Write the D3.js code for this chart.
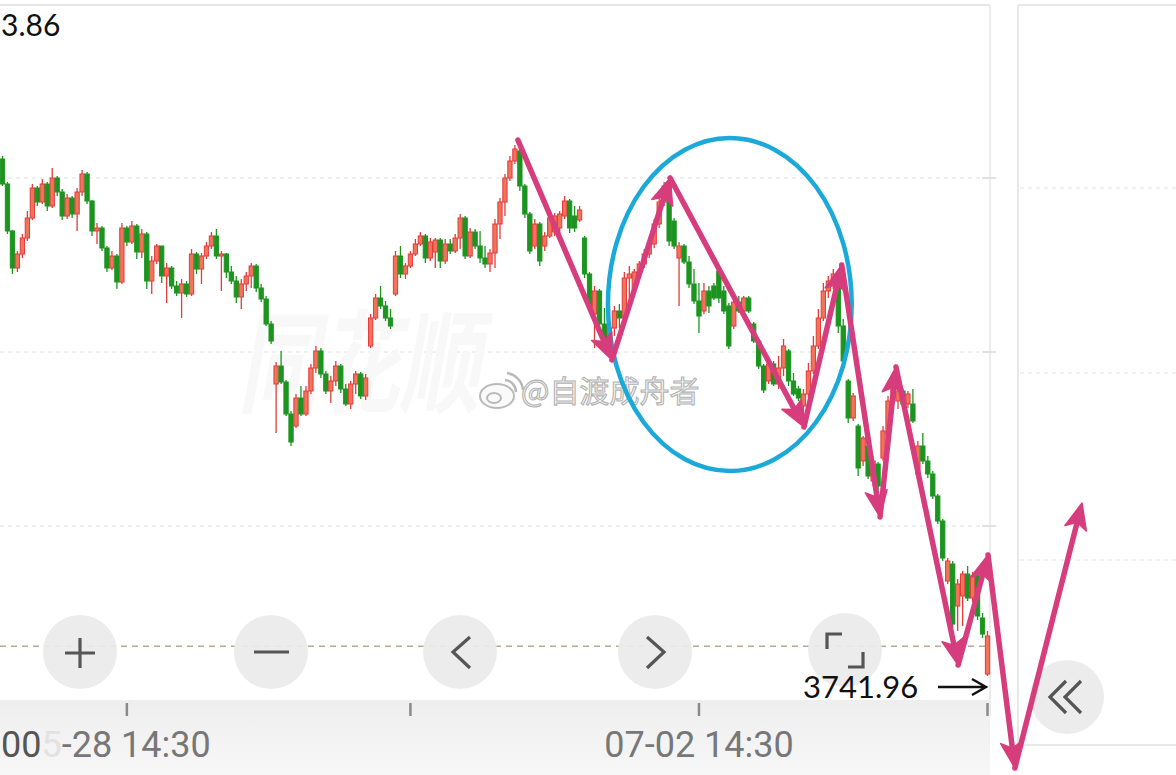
<!DOCTYPE html>
<html><head><meta charset="utf-8">
<script src="https://cdn.jsdelivr.net/npm/d3@7"></script>
<style>html,body{margin:0;padding:0;background:#fff;overflow:hidden}</style>
</head><body>
<svg id="c" width="1176" height="775"></svg>
<script>
// ---------------- data ----------------
const open = [3839.4,3834.4,3825.0,3817.6,3820.4,3823.6,3827.6,3833.6,3830.8,3834.4,3830.0,3835.6,3832.8,3828.0,3831.6,3828.4,3832.8,3836.4,3831.0,3825.0,
3825.6,3821.6,3817.6,3820.0,3814.8,3825.6,3822.8,3826.0,3820.8,3824.4,3815.0,3819.0,3822.0,3816.0,3817.6,3814.0,3812.6,3814.4,3812.4,3820.4,
3817.4,3820.0,3822.0,3824.0,3820.0,3820.4,3816.8,3815.0,3811.8,3814.4,3816.0,3818.0,3813.6,3811.4,3806.4,3794.4,3798.0,3794.8,3788.4,3786.0,
3791.6,3788.4,3793.0,3797.6,3801.0,3796.4,3793.0,3795.0,3798.0,3793.4,3790.4,3794.4,3796.4,3792.0,3802.0,3807.6,3811.6,3810.0,3807.6,3812.4,
3820.0,3816.4,3818.0,3820.4,3822.4,3824.0,3819.6,3820.8,3823.2,3819.0,3822.4,3821.0,3823.6,3827.6,3820.0,3824.8,3822.0,3819.6,3818.4,3820.6,
3826.4,3830.8,3835.6,3839.0,3841.0,3834.0,3828.4,3822.0,3826.4,3822.0,3824.0,3824.8,3825.6,3828.0,3831.0,3828.0,3827.2,3823.6,3816.4,3808.4,
3813.0,3806.4,3802.0,3805.6,3809.0,3807.6,3815.6,3813.4,3816.8,3818.4,3820.4,3822.4,3826.4,3830.8,3834.0,3827.0,3819.6,3822.0,3818.8,3814.4,
3811.0,3809.0,3813.0,3814.0,3817.0,3813.0,3810.0,3806.0,3810.8,3809.0,3811.6,3806.4,3803.0,3798.0,3795.0,3798.4,3794.4,3797.6,3801.0,3795.0,
3793.4,3790.0,3792.4,3797.0,3802.0,3807.6,3813.0,3814.4,3816.4,3806.0,3795.0,3787.6,3786.0,3779.0,3782.0,3775.0,3778.4,3779.6,3784.4,3791.6,
3791.0,3793.0,3790.4,3790.4,3776.4,3782.0,3779.0,3776.4,3772.0,3767.0,3755.0,3758.4,3750.0,3752.0,3756.4,3751.6,3756.0,3747.6,3736.4];
const close = [3834.4,3825.0,3817.6,3820.4,3823.6,3827.6,3833.6,3830.8,3834.4,3830.0,3835.6,3832.8,3828.0,3831.6,3828.4,3832.8,3836.4,3831.0,3825.0,3825.6,
3821.6,3817.6,3820.0,3814.8,3825.6,3822.8,3826.0,3820.8,3824.4,3815.0,3819.0,3822.0,3816.0,3817.6,3814.0,3812.6,3814.4,3812.4,3820.4,3817.4,
3820.0,3822.0,3824.0,3820.0,3820.4,3816.8,3815.0,3811.8,3814.4,3816.0,3818.0,3813.6,3811.4,3806.4,3803.0,3798.0,3794.8,3788.4,3782.8,3791.6,
3788.4,3793.0,3797.6,3801.0,3796.4,3793.0,3795.0,3798.0,3793.4,3790.4,3794.4,3796.4,3792.0,3795.6,3807.6,3811.6,3810.0,3807.6,3806.0,3820.0,
3816.4,3818.0,3820.4,3822.4,3824.0,3819.6,3822.8,3823.2,3819.0,3822.4,3821.0,3823.6,3827.6,3820.0,3824.8,3822.0,3819.6,3818.4,3820.6,3826.4,
3830.8,3835.6,3839.0,3841.4,3834.0,3828.4,3821.0,3826.4,3819.0,3824.0,3827.6,3828.0,3828.4,3831.0,3825.6,3825.6,3829.2,3816.4,3810.0,3813.0,
3806.4,3802.4,3805.6,3809.0,3807.6,3815.6,3816.4,3816.8,3818.4,3820.4,3822.4,3826.4,3830.8,3834.0,3823.0,3822.0,3822.0,3818.8,3814.4,3811.0,
3808.0,3813.0,3810.0,3811.6,3811.6,3809.0,3802.0,3810.8,3809.0,3811.6,3809.0,3803.0,3798.0,3793.2,3798.4,3794.4,3797.6,3802.0,3795.0,3792.4,
3791.6,3792.4,3797.0,3802.0,3807.6,3813.0,3815.0,3816.4,3806.0,3799.0,3787.6,3792.0,3777.6,3783.6,3776.0,3779.0,3774.0,3785.0,3791.0,3794.0,
3793.0,3790.4,3792.4,3787.0,3782.0,3779.0,3776.4,3772.0,3767.0,3759.6,3759.0,3746.4,3754.4,3756.4,3751.6,3756.0,3748.0,3744.4,3744.0];
const high = [3840.0,3834.8,3825.2,3821.0,3824.4,3829.0,3834.4,3834.0,3835.4,3834.8,3837.6,3836.0,3833.4,3832.4,3832.0,3833.6,3837.2,3836.8,3831.2,3826.6,
3826.0,3822.0,3821.0,3820.4,3826.6,3826.0,3827.0,3826.4,3825.4,3824.8,3820.0,3822.4,3822.0,3818.6,3818.0,3815.0,3815.4,3815.0,3821.4,3820.8,
3820.6,3822.8,3824.8,3825.4,3821.0,3820.6,3818.0,3816.0,3815.4,3816.8,3818.6,3818.4,3814.4,3812.0,3807.0,3798.8,3801.0,3795.2,3789.0,3792.4,
3794.0,3794.0,3798.4,3802.0,3801.6,3797.0,3796.0,3799.0,3798.4,3794.4,3795.0,3797.0,3796.8,3796.4,3808.4,3812.4,3814.0,3811.0,3809.4,3821.0,
3822.0,3818.6,3821.0,3823.4,3824.8,3824.4,3823.6,3823.6,3823.6,3823.4,3823.4,3824.4,3828.4,3828.0,3825.6,3825.4,3825.0,3822.0,3821.4,3827.4,
3831.6,3836.4,3840.0,3842.2,3841.6,3834.4,3828.8,3827.4,3826.8,3824.8,3828.6,3828.6,3829.0,3832.0,3831.4,3830.0,3830.0,3824.0,3816.8,3814.0,
3813.4,3809.6,3810.0,3810.0,3810.4,3816.8,3818.0,3817.4,3819.0,3821.4,3823.0,3827.4,3832.0,3834.8,3834.6,3827.6,3822.8,3822.4,3820.0,3817.4,
3814.6,3814.6,3814.0,3814.6,3817.4,3814.0,3810.6,3811.4,3812.0,3812.0,3812.0,3806.8,3803.4,3798.4,3799.4,3799.0,3800.0,3803.4,3801.4,3796.6,
3794.0,3793.4,3798.6,3804.0,3809.4,3814.6,3816.0,3817.4,3817.0,3807.4,3795.4,3792.6,3786.4,3784.0,3782.4,3780.0,3778.8,3786.0,3792.0,3794.8,
3794.6,3793.4,3793.0,3793.4,3783.0,3784.6,3780.0,3777.0,3772.4,3767.4,3759.6,3759.0,3755.4,3757.0,3758.0,3756.8,3757.4,3748.6,3745.0];
const low = [3834.0,3824.4,3816.4,3816.8,3819.6,3823.0,3827.2,3830.0,3830.4,3829.0,3829.6,3832.0,3827.2,3827.4,3827.6,3825.0,3832.0,3830.4,3824.0,3822.4,
3821.0,3816.8,3817.2,3813.4,3814.4,3822.0,3822.4,3819.4,3819.6,3813.4,3812.4,3818.4,3814.6,3810.6,3813.4,3812.0,3807.6,3811.8,3812.0,3816.4,
3814.4,3819.4,3821.4,3819.4,3813.0,3815.6,3814.4,3810.6,3809.4,3813.0,3813.6,3812.8,3810.8,3806.0,3802.4,3784.6,3794.4,3788.0,3782.0,3785.6,
3788.0,3788.0,3792.4,3796.6,3795.6,3792.4,3790.6,3794.0,3792.6,3790.0,3789.4,3792.4,3791.4,3791.2,3801.6,3807.2,3809.4,3807.0,3805.4,3812.0,
3815.6,3815.4,3817.6,3820.0,3822.0,3818.6,3819.0,3817.6,3817.6,3818.4,3820.4,3820.6,3821.4,3819.4,3819.6,3821.4,3818.6,3817.6,3816.8,3817.6,
3823.4,3828.0,3835.0,3838.4,3833.0,3827.6,3820.4,3821.4,3818.0,3821.0,3823.6,3824.0,3824.0,3827.4,3824.6,3824.8,3826.8,3815.6,3809.0,3801.6,
3805.6,3801.6,3800.0,3804.0,3805.6,3806.8,3810.6,3812.6,3815.0,3817.6,3819.6,3821.6,3825.6,3830.0,3822.0,3821.4,3810.0,3818.4,3813.6,3810.4,
3804.6,3808.4,3808.6,3811.2,3810.6,3808.4,3801.4,3805.4,3808.6,3808.6,3808.6,3802.6,3797.4,3792.6,3794.4,3794.0,3793.4,3796.0,3794.0,3792.0,
3791.0,3786.6,3791.6,3796.4,3801.4,3807.0,3811.6,3813.4,3804.6,3798.6,3786.6,3787.0,3776.0,3778.0,3775.4,3774.0,3773.2,3779.0,3783.6,3791.0,
3789.4,3790.0,3789.6,3786.6,3776.0,3778.4,3775.6,3771.4,3766.4,3759.0,3754.4,3745.6,3745.0,3746.0,3751.0,3750.8,3747.2,3743.6,3736.0];

const tickIndex = [25, 82, 140, 198];
const tickLabels = ["05-28 14:30", "", "07-02 14:30", ""];
const gridPrices = [3835.6, 3800.8, 3766.0];
const lastPrice = 3741.96;
const topLabel = "3.86";          // visible part of the top price label
const noteLabel = "3741.96";
const watermark = "@自渡成舟者";
// hand-drawn trend arrows: pivots in (bar index, price)
const zigIdx   = [103.6, 122.5, 134.2, 161.1, 168.7, 176.4, 179.6, 192.1, 198.1, 203.5, 217.0];
const zigPrice = [3843.2, 3799.2, 3835.6, 3785.8, 3818.2, 3767.8, 3797.8, 3738.2, 3760.2, 3717.6, 3770.6];
// circled zone
const ringIdx = [121.7, 170.7];
const ringPrice = [3843.6, 3777.0];

// ---------------- layout ----------------
const svg = d3.select("#c");
const W = 990;
const N = close.length;
const x = d3.scaleBand().domain(d3.range(N)).range([0, W]).paddingInner(0.14).paddingOuter(0.07);
const xl = d3.scaleLinear().domain([0, N]).range([0, W]);   // fractional bar index
const cx = i => xl(i + 0.5);
const y = d3.scaleLinear().domain([3870, 3740]).range([6, 656]);

const defs = svg.append("defs");
const bg = defs.append("linearGradient").attr("id", "band").attr("x1", 0).attr("x2", 0).attr("y1", 0).attr("y2", 1);
bg.append("stop").attr("offset", "0").attr("stop-color", "#eeeeee");
bg.append("stop").attr("offset", "1").attr("stop-color", "#f7f7f7");

// frame lines
svg.append("line").attr("x1", 0).attr("x2", W).attr("y1", 5).attr("y2", 5).attr("stroke", "#e6e6e6").attr("stroke-width", 2);
svg.append("line").attr("x1", W).attr("x2", W).attr("y1", 5).attr("y2", 716).attr("stroke", "#ececec").attr("stroke-width", 2);
// right panel
const rp = svg.append("g");
rp.append("line").attr("x1", 1018).attr("x2", 1018).attr("y1", 5).attr("y2", 745).attr("stroke", "#e8e8e8").attr("stroke-width", 2);
rp.append("line").attr("x1", 1018).attr("x2", 1176).attr("y1", 5).attr("y2", 5).attr("stroke", "#e8e8e8").attr("stroke-width", 2);
rp.append("line").attr("x1", 1018).attr("x2", 1176).attr("y1", 745).attr("y2", 745).attr("stroke", "#e8e8e8").attr("stroke-width", 2);
[188, 373, 560].forEach(v => rp.append("line").attr("x1", 1020).attr("x2", 1176).attr("y1", v).attr("y2", v)
  .attr("stroke", "#e2e2e2").attr("stroke-dasharray", "4,4"));

// grid
svg.append("g").selectAll("line").data(gridPrices).join("line")
  .attr("x1", 0).attr("x2", W).attr("y1", d => y(d)).attr("y2", d => y(d))
  .attr("stroke", "#e0e0e0").attr("stroke-dasharray", "4,4");
svg.append("g").selectAll("line").data(gridPrices).join("line")
  .attr("x1", W - 8).attr("x2", W + 6).attr("y1", d => y(d)).attr("y2", d => y(d))
  .attr("stroke", "#dadada").attr("stroke-width", 1.5);

// watermark (platform), very faint
svg.append("text").attr("transform", "translate(238,404) scale(0.72,1)").text("同花顺")
  .attr("font-family", "Noto Sans CJK SC").attr("font-size", 112).attr("font-weight", 700)
  .attr("fill", "#f8f8f8").attr("font-style", "italic");

// last price line
svg.append("line").attr("x1", 0).attr("x2", W).attr("y1", y(lastPrice)).attr("y2", y(lastPrice))
  .attr("stroke", "#b9ab8c").attr("stroke-width", 1.5).attr("stroke-dasharray", "6,5");

// bottom axis band
svg.append("rect").attr("x", 0).attr("y", 700).attr("width", W).attr("height", 75).attr("fill", "url(#band)");

// candles
const upCol = "#e33b3b", upFill = "#f0735a", dnCol = "#1c9420";
const cg = svg.append("g");
const idx = d3.range(N);
cg.selectAll("line.w").data(idx).join("line").attr("class", "w")
  .attr("x1", i => x(i) + x.bandwidth() / 2).attr("x2", i => x(i) + x.bandwidth() / 2)
  .attr("y1", i => y(Math.max(high[i], open[i], close[i]))).attr("y2", i => y(Math.min(low[i], open[i], close[i])))
  .attr("stroke", i => close[i] >= open[i] ? upCol : dnCol).attr("stroke-width", 1.3);
cg.selectAll("rect.b").data(idx).join("rect").attr("class", "b")
  .attr("x", i => x(i)).attr("width", x.bandwidth())
  .attr("y", i => y(Math.max(open[i], close[i])))
  .attr("height", i => Math.max(1.5, y(Math.min(open[i], close[i])) - y(Math.max(open[i], close[i]))))
  .attr("fill", i => close[i] >= open[i] ? upFill : dnCol)
  .attr("stroke", i => close[i] >= open[i] ? upCol : dnCol).attr("stroke-width", 1);

// x axis ticks
const axis = d3.axisBottom(x).tickValues(tickIndex).tickSize(13).tickPadding(0)
  .tickFormat((d, k) => tickLabels[k]);
const ax = svg.append("g").attr("transform", "translate(0,703)").call(axis);
ax.select(".domain").remove();
ax.selectAll(".tick line").attr("stroke", "#8a8a8a").attr("stroke-width", 2.5);
ax.selectAll(".tick text").attr("y", 54).attr("dy", 0)
  .attr("font-family", "Roboto").attr("font-size", 36).attr("fill", "#777");
// first label is partly covered on the left of the screenshot
ax.selectAll(".tick text").filter((d, k) => k === 0).each(function (d) {
  const t = d3.select(this).text("").attr("text-anchor", "start").attr("x", -(x(d) + x.bandwidth() / 2) + 1);
  t.append("tspan").attr("fill", "#555").text("00");
  t.append("tspan").attr("fill", "#e2e2e2").text(tickLabels[0].slice(1, 2));
  t.append("tspan").attr("fill", "#777").text(tickLabels[0].slice(2));
});

// top-left label
svg.append("text").attr("x", 1).attr("y", 36).attr("text-anchor", "start").text(topLabel)
  .attr("font-family", "Lato").attr("font-size", 30).attr("fill", "#111");

// floating buttons
const btn = svg.append("g");
const bc = [[80, 652], [271, 652], [460, 652], [655, 652], [845, 650], [1067, 697]];
btn.selectAll("circle").data(bc).join("circle").attr("cx", d => d[0]).attr("cy", d => d[1]).attr("r", 37)
  .attr("fill", "#ebebeb").attr("fill-opacity", 0.93);
const ic = btn.append("g").attr("fill", "none").attr("stroke", "#555").attr("stroke-width", 3.2).attr("stroke-linecap", "butt");
ic.append("path").attr("d", "M65,653H95M80,638V668");
ic.append("path").attr("d", "M254,652H289");
ic.append("path").attr("d", "M470,637L453,652L470,668");
ic.append("path").attr("d", "M647,637L664,652L647,668");
ic.append("path").attr("d", "M827,649V634H842M863,652V667H848");
ic.append("path").attr("d", "M1066,681L1050,697L1066,713M1081,681L1065,697L1081,713");

// hand notes: price text + arrow
svg.append("text").attr("x", 803).attr("y", 698).text(noteLabel)
  .attr("font-family", "Lato").attr("font-size", 31).attr("fill", "#111");
svg.append("path").attr("d", "M938,687H985M972,679L986,687L972,695").attr("fill", "none")
  .attr("stroke", "#111").attr("stroke-width", 2.4);

// weibo watermark
const wm = svg.append("g");
wm.append("ellipse").attr("cx", 497).attr("cy", 396).attr("rx", 17).attr("ry", 12).attr("fill", "#fafafa").attr("stroke", "#b9b9b9").attr("stroke-width", 2);
wm.append("ellipse").attr("cx", 494).attr("cy", 398).attr("rx", 7).attr("ry", 5).attr("fill", "none").attr("stroke", "#b9b9b9").attr("stroke-width", 2);
wm.append("path").attr("d", "M505,380A12,12 0 0 1 516,392M507,373A19,19 0 0 1 523,390").attr("fill", "none").attr("stroke", "#b9b9b9").attr("stroke-width", 2.5);
wm.append("text").attr("x", 521).attr("y", 402).text(watermark)
  .attr("font-family", "Noto Sans CJK SC").attr("font-size", 30)
  .attr("fill", "#f7f7f7").attr("stroke", "#b3b3b3").attr("stroke-width", 1.1);

// blue ring
const rx0 = cx(ringIdx[0]), rx1 = cx(ringIdx[1]), ry0 = y(ringPrice[0]), ry1 = y(ringPrice[1]);
svg.append("ellipse").attr("cx", (rx0 + rx1) / 2).attr("cy", (ry0 + ry1) / 2)
  .attr("rx", (rx1 - rx0) / 2).attr("ry", (ry1 - ry0) / 2)
  .attr("fill", "none").attr("stroke", "#1ba9d9").attr("stroke-width", 4.5);

// pink arrows
const pink = "#d63d7d";
const pg = svg.append("g");
function seg(x1, y1, x2, y2) {
  const dx = x2 - x1, dy = y2 - y1, L = Math.hypot(dx, dy), ux = dx / L, uy = dy / L;
  const hl = 26, hw = 11;
  const bx = x2 - ux * hl, by = y2 - uy * hl;
  pg.append("line").attr("x1", x1).attr("y1", y1).attr("x2", bx + ux * 4).attr("y2", by + uy * 4)
    .attr("stroke", pink).attr("stroke-width", 5.5).attr("stroke-linecap", "round");
  pg.append("polygon").attr("points", [[x2, y2], [bx - uy * hw, by + ux * hw], [bx + ux * 6, by + uy * 6], [bx + uy * hw, by - ux * hw]].map(p => p.join(",")).join(" "))
    .attr("fill", pink).attr("stroke", pink).attr("stroke-width", 1.5).attr("stroke-linejoin", "round");
}
for (let k = 0; k < zigIdx.length - 1; k++) {
  seg(cx(zigIdx[k]), y(zigPrice[k]), cx(zigIdx[k + 1]), y(zigPrice[k + 1]));
}
</script>
</body></html>
